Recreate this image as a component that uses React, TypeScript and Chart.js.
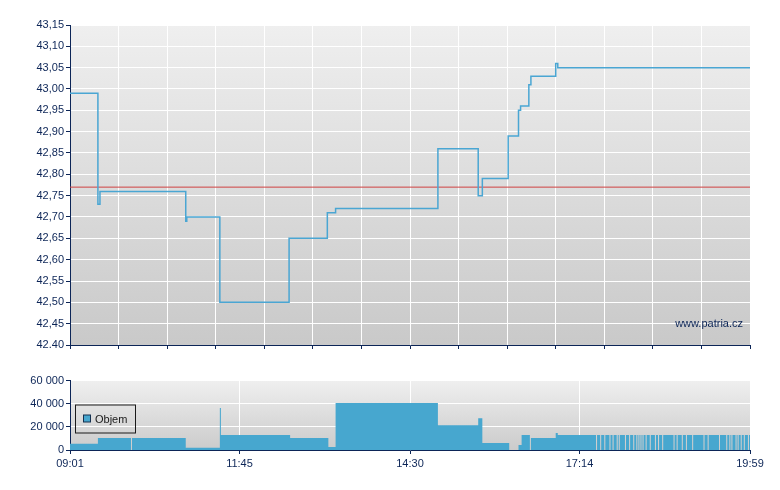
import { useEffect, useRef } from 'react';
import { Chart, registerables } from 'chart.js';

Chart.register(...registerables);

// ---- data ----
const sessionStart = '09:01';
const sessionEnd = '19:59';

const priceTimes = ['09:01', '09:28', '09:30', '10:53', '10:54', '11:26', '12:33', '13:10', '13:18', '14:57', '15:36', '15:40', '16:05', '16:15', '16:17', '16:25', '16:27', '16:51', '16:53', '19:59'];
const priceValues = [42.99, 42.73, 42.76, 42.69, 42.70, 42.50, 42.65, 42.71, 42.72, 42.86, 42.75, 42.79, 42.89, 42.95, 42.96, 43.01, 43.03, 43.06, 43.05, 43.05];
const previousClose = 42.77;

const volumeTimes = [
  '09:01', '09:28', '10:00', '10:01', '10:53', '11:26', '11:27', '12:34', '13:11', '13:18', '14:57', '15:36', '15:40', '16:06', '16:15', '16:18', '16:26', '16:27', '16:51', '16:53',
  '17:30', '17:31', '17:34', '17:35', '17:38', '17:39', '17:43', '17:44', '17:46', '17:47', '17:50', '17:51', '17:52', '17:53', '17:58', '17:59',
  '18:02', '18:03', '18:06', '18:07', '18:09', '18:10', '18:11', '18:12', '18:13', '18:14', '18:15', '18:16', '18:18', '18:19', '18:22', '18:23',
  '18:27', '18:28', '18:30', '18:31', '18:34', '18:35', '18:45', '18:46', '18:48', '18:49', '18:53', '18:54', '18:57', '18:58',
  '19:03', '19:04', '19:14', '19:15', '19:18', '19:19', '19:29', '19:30', '19:36', '19:37', '19:39', '19:40', '19:41', '19:42',
  '19:45', '19:46', '19:47', '19:48', '19:50', '19:51', '19:53', '19:54', '19:57', '19:58', '19:59',
];
const volumeValues = [
  5500, 10300, 0, 10300, 2000, 36300, 13000, 10300, 2500, 40500, 21400, 27400, 6000, 0, 4300, 12900, 0, 10300, 14600, 12900,
  0, 12900, 0, 12900, 0, 12900, 0, 12900, 0, 12900, 0, 12900, 0, 12900, 0, 12900,
  0, 12900, 0, 12900, 0, 12900, 0, 12900, 0, 12900, 0, 12900, 0, 12900, 0, 12900,
  0, 12900, 0, 12900, 0, 12900, 0, 12900, 0, 12900, 0, 12900, 0, 12900,
  0, 12900, 0, 12900, 0, 12900, 0, 12900, 0, 12900, 0, 12900, 0, 12900,
  0, 12900, 0, 12900, 0, 12900, 0, 12900, 0, 12900, 12900,
];

const priceGridStepMinutes = 47;
const priceTickValues = [42.40, 42.45, 42.50, 42.55, 42.60, 42.65, 42.70, 42.75, 42.80, 42.85, 42.90, 42.95, 43.00, 43.05, 43.10, 43.15];
const priceTickLabels = ['42.40', '42,45', '42,50', '42,55', '42,60', '42,65', '42,70', '42,75', '42,80', '42,85', '42,90', '42,95', '43,00', '43,05', '43,10', '43,15'];
const volumeTickValues = [0, 20000, 40000, 60000];
const volumeTickLabels = ['0', '20 000', '40 000', '60 000'];
const timeTickLabels = ['09:01', '11:45', '14:30', '17:14', '19:59'];
const legendLabel = 'Objem';
const watermark = 'www.patria.cz';

// ---- helpers ----
const toMin = (s: string) => {
  const [h, m] = s.split(':').map(Number);
  const [h0, m0] = sessionStart.split(':').map(Number);
  return h * 60 + m - (h0 * 60 + m0);
};
const END = toMin(sessionEnd);

const NAVY = '#0c2557';
const FONT = { family: "'Liberation Sans', Arial, Helvetica, sans-serif", size: 11 };

const bgPlugin = (c1: string, c2: string) => ({
  id: 'bgGradient',
  beforeDraw(chart: any) {
    const { ctx, chartArea: a } = chart;
    const g = ctx.createLinearGradient(0, a.top, 0, a.bottom);
    g.addColorStop(0, c1);
    g.addColorStop(1, c2);
    ctx.save();
    ctx.fillStyle = g;
    ctx.fillRect(a.left, a.top, a.right - a.left, a.bottom - a.top);
    ctx.restore();
  },
});

export default function App() {
  const topRef = useRef<HTMLCanvasElement>(null);
  const botRef = useRef<HTMLCanvasElement>(null);

  useEffect(() => {
    const watermarkPlugin = {
      id: 'watermark',
      afterDatasetsDraw(chart: any) {
        const { ctx, chartArea: a } = chart;
        ctx.save();
        ctx.font = `${FONT.size}px ${FONT.family}`;
        ctx.fillStyle = NAVY;
        ctx.textAlign = 'right';
        ctx.textBaseline = 'middle';
        ctx.fillText(watermark, a.right - 7, a.bottom - 21);
        ctx.restore();
      },
    };

    const top = new Chart(topRef.current!, {
      type: 'line',
      data: {
        datasets: [
          {
            data: priceTimes.map((t, i) => ({ x: toMin(t), y: priceValues[i] })),
            stepped: true,
            borderColor: '#4aa6d3',
            borderWidth: 1.5,
            pointRadius: 0,
            fill: false,
          },
          {
            data: [
              { x: 0, y: previousClose },
              { x: END, y: previousClose },
            ],
            borderColor: '#cf4242',
            borderWidth: 1,
            pointRadius: 0,
            fill: false,
          },
        ],
      },
      options: {
        responsive: false,
        animation: false,
        events: [],
        layout: { padding: { top: 25, right: 30, left: 0, bottom: 0 } },
        plugins: { legend: { display: false }, tooltip: { enabled: false } },
        scales: {
          x: {
            type: 'linear',
            min: 0,
            max: END,
            ticks: { stepSize: priceGridStepMinutes, autoSkip: false, callback: () => '', maxRotation: 0 },
            grid: { color: '#ffffff', lineWidth: 1, tickColor: NAVY, tickLength: 4 },
            border: { color: NAVY, width: 1 },
            afterFit: (s: any) => {
              s.height = 10;
            },
          },
          y: {
            type: 'linear',
            min: priceTickValues[0],
            max: priceTickValues[priceTickValues.length - 1],
            afterBuildTicks: (s: any) => {
              s.ticks = priceTickValues.map((v) => ({ value: v }));
            },
            ticks: {
              autoSkip: false,
              color: NAVY,
              font: FONT,
              padding: 2,
              callback: (_v: any, i: number) => priceTickLabels[i],
            },
            grid: { color: '#ffffff', lineWidth: 1, tickColor: NAVY, tickLength: 4 },
            border: { color: NAVY, width: 1 },
            afterFit: (s: any) => {
              s.width = 70;
            },
          },
        },
      },
      plugins: [bgPlugin('#efefef', '#c9c9c9'), watermarkPlugin],
    } as any);

    const legendPlugin = {
      id: 'volLegend',
      afterDraw(chart: any) {
        const { ctx, chartArea: a } = chart;
        const x = a.left + 5.5;
        const y = a.top + 24.5;
        ctx.save();
        ctx.strokeStyle = '#1a1a1a';
        ctx.lineWidth = 1;
        ctx.strokeRect(x, y, 60, 28);
        ctx.fillStyle = '#47a7cf';
        ctx.fillRect(x + 8, y + 10, 7, 7);
        ctx.strokeStyle = '#15304f';
        ctx.strokeRect(x + 8, y + 10, 7, 7);
        ctx.font = `${FONT.size}px ${FONT.family}`;
        ctx.fillStyle = '#1a1a1a';
        ctx.textAlign = 'left';
        ctx.textBaseline = 'middle';
        ctx.fillText(legendLabel, x + 19.5, y + 14.5);
        ctx.restore();
      },
    };

    const bot = new Chart(botRef.current!, {
      type: 'line',
      data: {
        datasets: [
          {
            data: volumeTimes.map((t, i) => ({ x: toMin(t), y: volumeValues[i] })),
            stepped: true,
            fill: 'origin',
            backgroundColor: '#47a7cf',
            borderColor: 'rgba(0,0,0,0)',
            borderWidth: 1,
            pointRadius: 0,
          },
        ],
      },
      options: {
        responsive: false,
        animation: false,
        events: [],
        layout: { padding: { top: 25.5, right: 30, left: 0, bottom: 0 } },
        plugins: { legend: { display: false }, tooltip: { enabled: false } },
        scales: {
          x: {
            type: 'linear',
            min: 0,
            max: END,
            afterBuildTicks: (s: any) => {
              s.ticks = timeTickLabels.map((l) => ({ value: toMin(l) }));
            },
            ticks: {
              autoSkip: false,
              maxRotation: 0,
              color: NAVY,
              font: FONT,
              padding: 3,
              callback: (_v: any, i: number) => timeTickLabels[i],
            },
            grid: { color: '#ffffff', lineWidth: 1, tickColor: NAVY, tickLength: 4 },
            border: { color: NAVY, width: 1 },
            afterFit: (s: any) => {
              s.height = 40;
            },
          },
          y: {
            type: 'linear',
            min: volumeTickValues[0],
            max: volumeTickValues[volumeTickValues.length - 1],
            afterBuildTicks: (s: any) => {
              s.ticks = volumeTickValues.map((v) => ({ value: v }));
            },
            ticks: {
              color: NAVY,
              font: FONT,
              padding: 2,
              callback: (_v: any, i: number) => volumeTickLabels[i],
            },
            grid: { color: '#ffffff', lineWidth: 1, tickColor: NAVY, tickLength: 4 },
            border: { color: NAVY, width: 1 },
            afterFit: (s: any) => {
              s.width = 70;
            },
          },
        },
      },
      plugins: [bgPlugin('#efefef', '#cbcbcb'), legendPlugin],
    } as any);

    return () => {
      top.destroy();
      bot.destroy();
    };
  }, []);

  return (
    <div style={{ position: 'absolute', left: 0, top: 0, width: 780, height: 490, background: '#ffffff' }}>
      <canvas ref={topRef} width={780} height={355} style={{ position: 'absolute', left: 0, top: 0, display: 'block' }} />
      <canvas ref={botRef} width={780} height={135} style={{ position: 'absolute', left: 0, top: 355, display: 'block' }} />
    </div>
  );
}
